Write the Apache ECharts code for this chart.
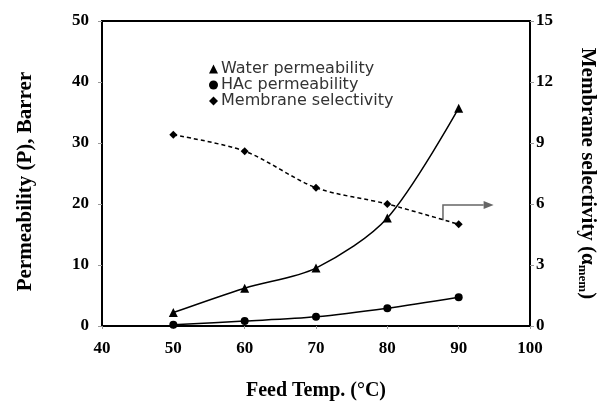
<!DOCTYPE html>
<html>
<head>
<meta charset="utf-8">
<script src="https://cdn.jsdelivr.net/npm/echarts@6/dist/echarts.min.js"></script>
<style>
  html, body { margin: 0; padding: 0; background: #fff; }
  #chart { width: 603px; height: 401px; }
</style>
</head>
<body>
<div id="chart"></div>
<script>
// 数据
const temps = [50, 60, 70, 80, 90];
const waterPerm = [2.2, 6.2, 9.5, 17.7, 35.7];
const hacPerm = [0.2, 0.8, 1.5, 2.9, 4.7];
const selectivity = [9.4, 8.6, 6.8, 6.0, 5.0];

const serif = '"Liberation Serif", "Times New Roman", serif';
const tickFont = { fontFamily: serif, fontWeight: 'bold', fontSize: 17, color: '#000' };
const nameFont = { fontFamily: serif, fontWeight: 'bold', fontSize: 21, color: '#000' };

const myChart = echarts.init(document.getElementById('chart'));

const pairs = arr => temps.map((t, i) => [t, arr[i]]);

let option = {
  animation: false,
  backgroundColor: '#fff',
  grid: {
    left: 102, right: 73, top: 21, bottom: 75,
    outerBoundsMode: 'none', containLabel: false,
    show: true, borderColor: '#000', borderWidth: 2
  },
  legend: {
    orient: 'vertical',
    left: 204, top: 56,
    itemWidth: 9, itemHeight: 9, itemGap: 0,
    textStyle: { fontFamily: '"DejaVu Sans", sans-serif', fontSize: 16, color: '#333', padding: [0, 0, 0, -2] },
    data: [
      { name: 'Water permeability', icon: 'triangle' },
      { name: 'HAc permeability', icon: 'circle' },
      { name: 'Membrane selectivity', icon: 'diamond' }
    ]
  },
  xAxis: {
    type: 'value', min: 40, max: 100, interval: 10,
    name: 'Feed Temp. (°C)', nameLocation: 'middle', nameGap: 55,
    nameTextStyle: Object.assign({}, nameFont, { fontSize: 20 }),
    axisLine: { lineStyle: { color: '#000', width: 2 } },
    axisTick: { show: true, length: 3, lineStyle: { color: '#999' } },
    axisLabel: Object.assign({ margin: 14 }, tickFont),
    splitLine: { show: false }
  },
  yAxis: [
    {
      type: 'value', min: 0, max: 50, interval: 10, position: 'left',
      name: 'Permeability (P), Barrer', nameLocation: 'middle', nameGap: 66,
      nameTextStyle: Object.assign({ padding: [0, 16, 0, 0] }, nameFont),
      axisLine: { show: true, lineStyle: { color: '#000', width: 2 } },
      axisTick: { show: true, length: 4, lineStyle: { color: '#999' } },
      axisLabel: Object.assign({ margin: 13 }, tickFont),
      splitLine: { show: false }
    },
    {
      type: 'value', min: 0, max: 15, interval: 3, position: 'right',
      name: '{a|Membrane selectivity (}{g|α}{s|mem}{a|)}',
      nameLocation: 'middle', nameGap: 46, nameRotate: -90,
      nameTextStyle: {
        rich: {
          a: nameFont,
          g: nameFont,
          s: { fontFamily: serif, fontWeight: 'bold', fontSize: 13, color: '#000', padding: [9, 0, 0, 0] }
        }
      },
      axisLine: { show: true, lineStyle: { color: '#000', width: 2 } },
      axisTick: { show: true, length: 4, lineStyle: { color: '#999' } },
      axisLabel: Object.assign({ margin: 6 }, tickFont),
      splitLine: { show: false }
    }
  ],
  series: [
    {
      name: 'Water permeability', type: 'line', yAxisIndex: 0,
      data: pairs(waterPerm), smooth: 0.3,
      symbol: 'triangle', symbolSize: 9,
      itemStyle: { color: '#000' },
      lineStyle: { color: '#000', width: 1.5 }
    },
    {
      name: 'HAc permeability', type: 'line', yAxisIndex: 0,
      data: pairs(hacPerm), smooth: 0.3,
      symbol: 'circle', symbolSize: 8,
      itemStyle: { color: '#000' },
      lineStyle: { color: '#000', width: 1.5 }
    },
    {
      name: 'Membrane selectivity', type: 'line', yAxisIndex: 1,
      data: pairs(selectivity), smooth: 0.3,
      symbol: 'diamond', symbolSize: 8,
      itemStyle: { color: '#000' },
      lineStyle: { color: '#000', width: 1.5, type: [4, 3] }
    }
  ]
};

myChart.setOption(option);

// 指向右轴的箭头
const p0 = myChart.convertToPixel({ xAxisIndex: 0, yAxisIndex: 1 }, [87.8, 5.2]);
const p1 = myChart.convertToPixel({ xAxisIndex: 0, yAxisIndex: 1 }, [87.8, 5.95]);
const p2 = myChart.convertToPixel({ xAxisIndex: 0, yAxisIndex: 1 }, [93.5, 5.95]);
myChart.setOption({
  graphic: [
    {
      type: 'polyline',
      shape: { points: [p0, p1, p2] },
      style: { stroke: '#666', lineWidth: 1.5, fill: null }
    },
    {
      type: 'polygon',
      shape: { points: [[p2[0], p2[1] - 4], [p2[0] + 10, p2[1]], [p2[0], p2[1] + 4]] },
      style: { fill: '#666' }
    }
  ]
});
</script>
</body>
</html>
